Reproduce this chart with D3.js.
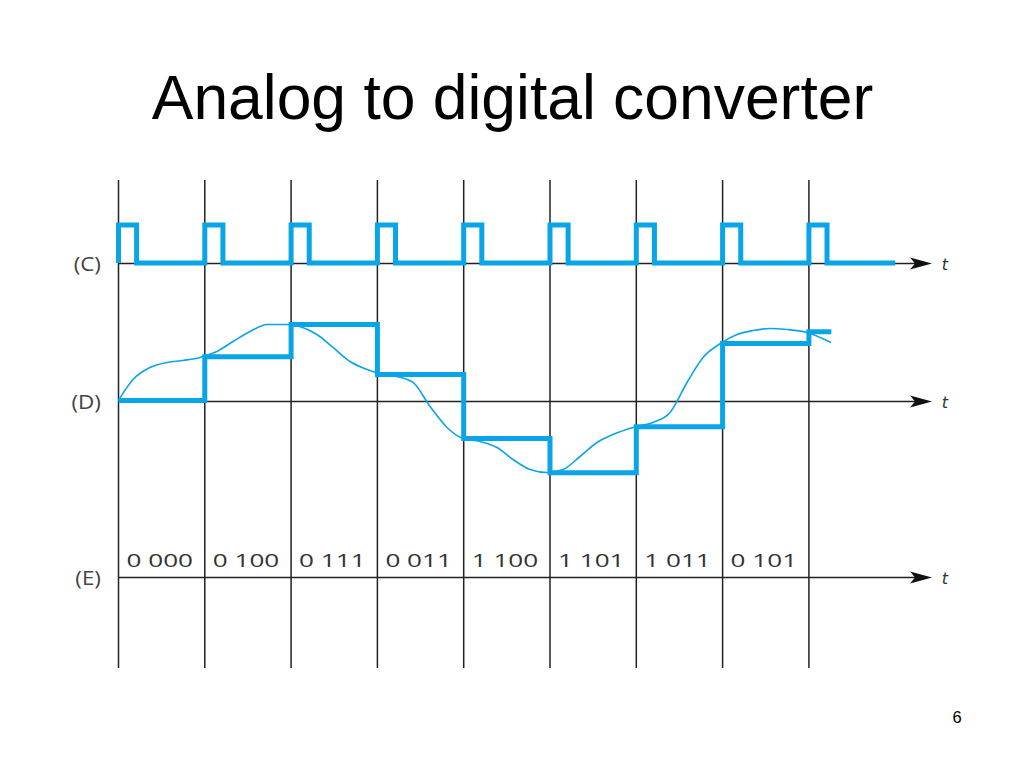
<!DOCTYPE html>
<html>
<head>
<meta charset="utf-8">
<script src="https://cdn.jsdelivr.net/npm/d3@7"></script>
<style>
  html, body { margin: 0; padding: 0; background: #fff; }
  svg { display: block; }
</style>
</head>
<body>
<script>
// ---- data ----
const title = "Analog to digital converter";
const pageNumber = "6";
const rowLabels = ["(C)", "(D)", "(E)"];
const sampleTimes = [0, 1, 2, 3, 4, 5, 6, 7, 8];
// clock pulses: start at each sample time, width in time units; clock line ends at t=9
const pulseWidth = 0.21;
const clockEnd = 9.0;
// quantized (held) sample levels per interval (arbitrary level units)
const stairLevels = [0.1, 4.06, 7.0, 2.45, -3.36, -6.48, -2.3, 5.27, 6.33];
const stairEnd = 8.26;
// analog signal (time, level)
const analogT = [0, 0.168, 0.365, 0.562, 0.747, 0.944, 1.0, 1.14, 1.327, 1.524, 1.721, 1.953, 2.1, 2.3, 2.486, 2.683, 2.88, 3.0, 3.227, 3.413, 3.61, 3.807, 3.99, 4.19, 4.386, 4.571, 4.768, 4.965, 5.151, 5.348, 5.545, 5.73, 5.962, 6.194, 6.391, 6.588, 6.773, 6.993, 7.167, 7.352, 7.549, 7.746, 7.978, 8.256];
const analogV = [0.1, 2.0, 3.09, 3.55, 3.73, 4.0, 4.15, 4.55, 5.45, 6.36, 7.0, 7.0, 6.82, 6.09, 4.91, 3.64, 2.91, 2.6, 2.27, 1.73, -0.45, -2.36, -3.36, -3.64, -4.18, -5.27, -6.18, -6.45, -6.18, -5.0, -3.73, -3.0, -2.36, -1.91, -1.0, 1.73, 4.0, 5.36, 6.09, 6.45, 6.64, 6.55, 6.27, 5.36];
const codes = ["0 000", "0 100", "0 111", "0 011", "1 100", "1 101", "1 011", "0 101"];

// ---- setup ----
const W = 1024, H = 768;
const blue = "#0aa5e6";
const ink = "#222";
const svg = d3.select("body").append("svg").attr("width", W).attr("height", H);

const x = d3.scaleLinear().domain([0, 8]).range([118.5, 808.9]);
const arrowTip = 932;
const axisY = { C: 263.5, D: 401.5, E: 577.5 };
const yC = d3.scaleLinear().domain([0, 1]).range([263, 225]);
const yD = d3.scaleLinear().domain([0, 1]).range([401.5, 390.5]);

// title
svg.append("text")
  .attr("x", 512.5).attr("y", 119)
  .attr("text-anchor", "middle")
  .attr("font-family", "Liberation Sans, Arial, sans-serif")
  .attr("font-size", 62.4)
  .attr("fill", "#000")
  .text(title);

// page number
svg.append("text")
  .attr("x", 957).attr("y", 723)
  .attr("text-anchor", "middle")
  .attr("font-family", "Liberation Sans, Arial, sans-serif")
  .attr("font-size", 16.5)
  .attr("fill", "#000")
  .text(pageNumber);

// vertical sample lines
svg.append("g").selectAll("line").data(sampleTimes).join("line")
  .attr("x1", d => x(d)).attr("x2", d => x(d))
  .attr("y1", 180).attr("y2", 668)
  .attr("stroke", ink).attr("stroke-width", 1.5);

// horizontal time axes with arrows
const axes = [axisY.C, axisY.D, axisY.E];
const ag = svg.append("g");
axes.forEach(yy => {
  ag.append("line").attr("x1", x(0)).attr("x2", arrowTip - 8)
    .attr("y1", yy).attr("y2", yy).attr("stroke", ink).attr("stroke-width", 1.5);
  ag.append("path")
    .attr("d", `M${arrowTip},${yy} L${arrowTip - 22},${yy - 6} L${arrowTip - 17},${yy} L${arrowTip - 22},${yy + 6} Z`)
    .attr("fill", "#111");
  ag.append("text")
    .attr("x", 945).attr("y", yy + 6)
    .attr("text-anchor", "middle")
    .attr("font-family", "DejaVu Sans, sans-serif")
    .attr("font-style", "italic")
    .attr("font-size", 16)
    .attr("fill", "#333")
    .text("t");
});

// row labels
const labelFont = "Open Sans, Lato, DejaVu Sans, sans-serif";
const rl = svg.append("g").selectAll("text").data(rowLabels).join("text")
  .attr("x", 101)
  .attr("y", (d, i) => axes[i] + 7.5)
  .attr("text-anchor", "end")
  .attr("font-family", labelFont)
  .attr("font-weight", 400)
  .attr("font-size", 20)
  .attr("fill", "#444")
  .text(d => d);
rl.each(function () {
  const len = this.getComputedTextLength();
  d3.select(this).attr("textLength", len * 1.12).attr("lengthAdjust", "spacingAndGlyphs");
});

// clock signal
const clockPts = [];
sampleTimes.forEach(t => {
  clockPts.push([t, 0], [t, 1], [t + pulseWidth, 1], [t + pulseWidth, 0]);
});
clockPts.push([clockEnd, 0]);
svg.append("path")
  .datum(clockPts)
  .attr("d", d3.line().x(d => x(d[0])).y(d => yC(d[1])))
  .attr("fill", "none").attr("stroke", blue).attr("stroke-width", 5)
  .attr("stroke-linejoin", "miter");

// analog signal
const analog = analogT.map((t, i) => [t, analogV[i]]);
svg.append("path")
  .datum(analog)
  .attr("d", d3.line().x(d => x(d[0])).y(d => yD(d[1])).curve(d3.curveMonotoneX))
  .attr("fill", "none").attr("stroke", blue).attr("stroke-width", 1.6);

// quantized staircase
const stair = sampleTimes.map((t, i) => [t, stairLevels[i]]);
stair.push([stairEnd, stairLevels[stairLevels.length - 1]]);
svg.append("path")
  .datum(stair)
  .attr("d", d3.line().x(d => x(d[0])).y(d => yD(d[1])).curve(d3.curveStepAfter))
  .attr("fill", "none").attr("stroke", blue).attr("stroke-width", 5)
  .attr("stroke-linejoin", "miter");

// binary codes
const codeSel = svg.append("g").selectAll("text").data(codes).join("text")
  .attr("x", (d, i) => x(i) + 8)
  .attr("y", 566.5)
  .attr("font-family", labelFont)
  .attr("font-weight", 400)
  .attr("font-size", 18)
  .attr("fill", "#333")
  .text(d => d);
codeSel.each(function () {
  const len = this.getComputedTextLength();
  d3.select(this).attr("textLength", len * 1.45).attr("lengthAdjust", "spacingAndGlyphs");
});
</script>
</body>
</html>
